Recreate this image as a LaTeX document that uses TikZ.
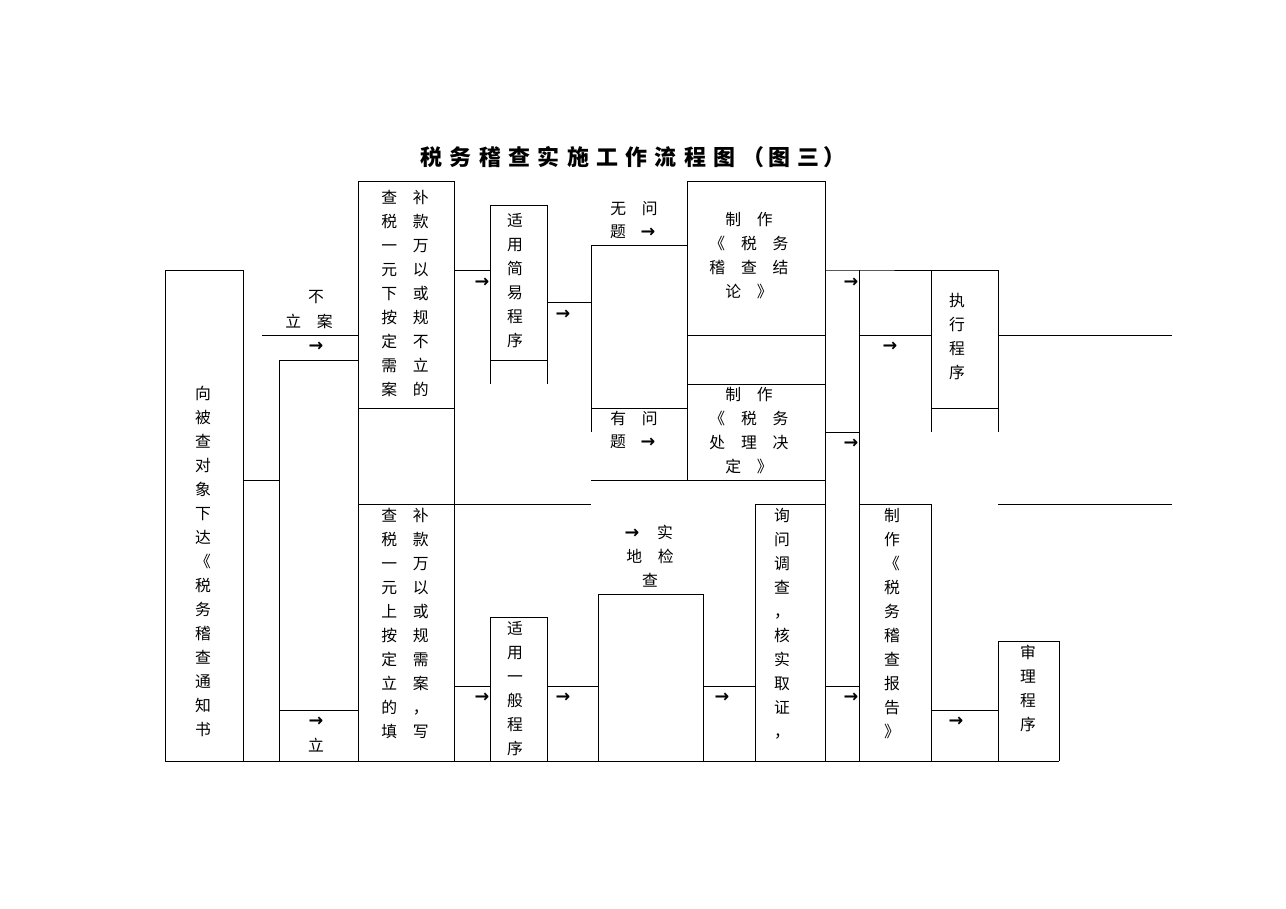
\documentclass[tikz,border=0pt]{standalone}
\usepackage{fontspec}
\setmainfont{Noto Sans CJK SC}
\newfontfamily\arrfont{DejaVu Sans}
\usetikzlibrary{positioning}

\tikzset{
  txt/.style={inner sep=0pt, align=center, anchor=north, font=\fontsize{9}{13.66}\selectfont},
  arr/.style={inner sep=0pt, font=\arrfont\bfseries\fontsize{10}{12}\selectfont},
  frame/.style={line width=0.5pt}
}
\newcommand{\gp}{\hspace{9pt}}

\begin{document}
\begin{tikzpicture}[x=0.02cm, y=-0.02cm, frame]
  \useasboundingbox (0,0) rectangle (1286,909);

  % titel
  \node[inner sep=0pt, font=\bfseries\fontsize{12.5}{14}\selectfont] (titel) at (633,157)
    {税\,\,务\,\,稽\,\,查\,\,实\,\,施\,\,工\,\,作\,\,流\,\,程\,\,图\,\,（\,图\,\,三\,）};

  % kaders
  \draw (165,270) rectangle (243,761);
  \draw (358,181) rectangle (454,761);
  \draw (358,408) -- (454,408);
  \draw (358,504) -- (454,504);
  \draw (490,384) -- (490,205) -- (547,205) -- (547,384);
  \draw (490,360) -- (547,360);
  \draw (490,761) -- (490,617) -- (547,617) -- (547,761);
  \draw (598,761) -- (598,594) -- (703,594) -- (703,761);
  \draw (687,181) rectangle (825,480);
  \draw (687,335) -- (825,335);
  \draw (687,384) -- (825,384);
  \draw (755,504) -- (825,504);
  \draw (755,504) -- (755,761);
  \draw (825,480) -- (825,761);
  \draw (859,270) -- (859,761);
  \draw (859,504) -- (931,504) -- (931,761);
  \draw (931,432) -- (931,270) -- (998,270) -- (998,432);
  \draw (931,408) -- (998,408);
  \draw (998,761) -- (998,641) -- (1059,641) -- (1059,761);
  \draw (165,761) -- (1059,761);

  % verbindingslijnen
  \draw (243,480) -- (279,480);
  \draw (279,360) -- (279,761);
  \draw (279,360) -- (358,360);
  \draw (279,710) -- (358,710);
  \draw (262,335) -- (358,335);
  \draw (454,270) -- (490,270);
  \draw (547,302) -- (591,302);
  \draw (591,432) -- (591,245) -- (687,245);
  \draw (591,408) -- (687,408);
  \draw (591,480) -- (687,480);
  \draw (454,504) -- (591,504);
  \draw (825,270) -- (859,270) -- (931,270);
  \draw (859,335) -- (931,335);
  \draw (998,335) -- (1172,335);
  \draw (825,432) -- (859,432);
  \draw (998,504) -- (1172,504);
  \draw (454,686) -- (490,686);
  \draw (547,686) -- (598,686);
  \draw (703,686) -- (755,686);
  \draw (825,686) -- (859,686);
  \draw (931,710) -- (998,710);

  % pijlen
  \foreach \n/\px/\py in {a1/316/347, a2/316/722, a3/482/283, a4/563/315, a5/482/698,
      a6/563/698, a7/722/698, a8/851/283, a9/851/444, a10/851/698, a11/890/347, a12/956/722,
      a13/648/233, a14/648/443, a15/632/534}
    \node[arr] (\n) at (\px,\py) {→};

  % teksten
  \node[txt] (tzend) at (203,386) {向\\被\\查\\对\\象\\下\\达\\《\\税\\务\\稽\\查\\通\\知\\书};
  \node[txt] (tbu) at (316,290) {不};
  \node[txt] (tli) at (309,314) {立\gp 案};
  \node[txt] (tli2) at (316,738) {立};
  \node[txt] (tsmall) at (405,190) {查\gp 补\\税\gp 款\\一\gp 万\\元\gp 以\\下\gp 或\\按\gp 规\\定\gp 不\\需\gp 立\\案\gp 的};
  \node[txt] (tbig) at (405,508) {查\gp 补\\税\gp 款\\一\gp 万\\元\gp 以\\上\gp 或\\按\gp 规\\定\gp 需\\立\gp 案\\的\gp ，\\填\gp 写};
  \node[txt] (tjy) at (515,213) {适\\用\\简\\易\\程\\序};
  \node[txt] (tyb) at (515,621) {适\\用\\一\\般\\程\\序};
  \node[txt] (twu) at (634,201) {无\gp 问};
  \node[txt] (twu2) at (618,224) {题};
  \node[txt] (tyou) at (634,411) {有\gp 问};
  \node[txt] (tyou2) at (618,434) {题};
  \node[txt] (tjl) at (749,212) {制\gp 作\\《\gp 税\gp 务\\稽\gp 查\gp 结\\论\gp 》};
  \node[txt] (tcl) at (749,387) {制\gp 作\\《\gp 税\gp 务\\处\gp 理\gp 决\\定\gp 》};
  \node[txt] (tsd) at (665,525) {实};
  \node[txt] (tsd2) at (650,549) {地\gp 检\\查};
  \node[txt] (txw) at (782,508) {询\\问\\调\\查\\，\\核\\实\\取\\证\\，};
  \node[txt] (tbg) at (892,508) {制\\作\\《\\税\\务\\稽\\查\\报\\告\\》};
  \node[txt] (tzx) at (957,293) {执\\行\\程\\序};
  \node[txt] (tsl) at (1028,645) {审\\理\\程\\序};
\end{tikzpicture}
\end{document}
